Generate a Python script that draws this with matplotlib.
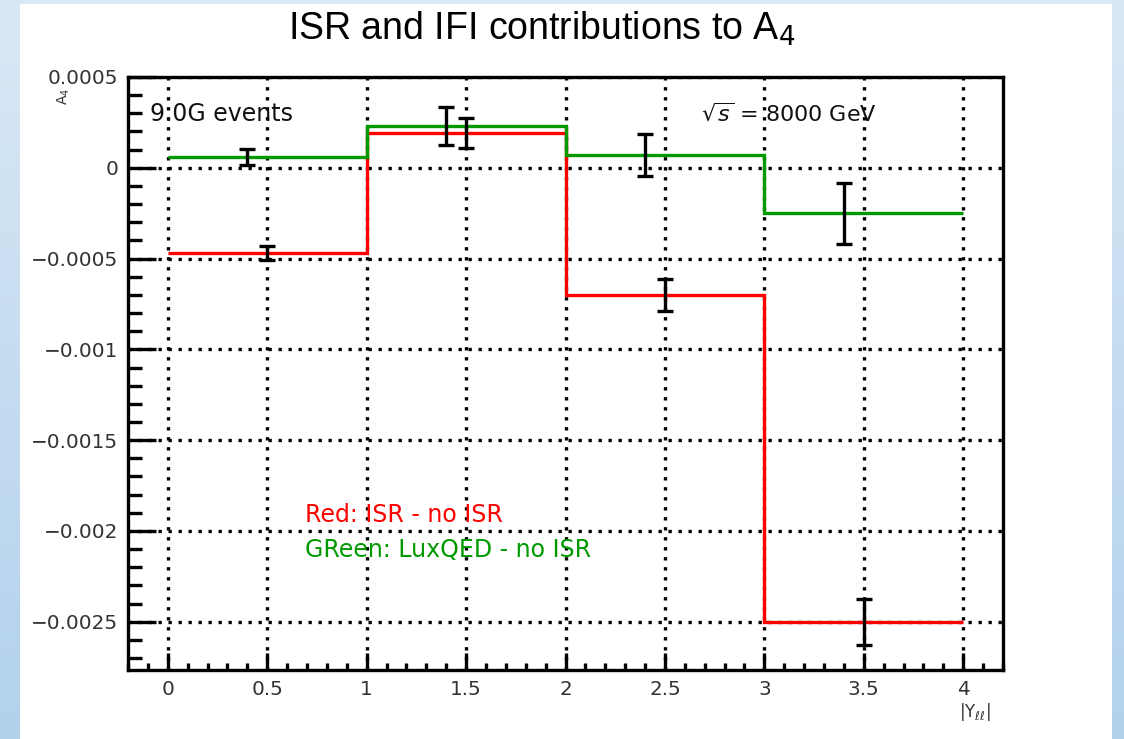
import numpy as np
import matplotlib
matplotlib.use('Agg')
from matplotlib import pyplot as plt
from matplotlib.patches import Rectangle
from matplotlib.ticker import MultipleLocator

# A4 differences per |Y_ll| bin
bin_edges = [0, 1, 2, 3, 4]
isr_diff = [-0.00047, 0.00019, -0.0007, -0.0025]
isr_err = [0.000038, 0.000083, 0.00009, 0.000126]
lux_diff = [0.00006, 0.00023, 0.00007, -0.00025]
lux_err = [0.000045, 0.000107, 0.000117, 0.000168]

x_ticks = [0, 0.5, 1, 1.5, 2, 2.5, 3, 3.5, 4]
x_labels = ['0', '0.5', '1', '1.5', '2', '2.5', '3', '3.5', '4']
y_ticks = [-0.0025, -0.002, -0.0015, -0.001, -0.0005, 0, 0.0005]
y_labels = ['\u22120.0025', '\u22120.002', '\u22120.0015', '\u22120.001', '\u22120.0005', '0', '0.0005']

W, H = 1124, 739
RED = '#ff0000'
GREEN = '#009a00'
LW = 2.4

plt.rcParams['font.family'] = ['DejaVu Sans']

fig = plt.figure(figsize=(W / 100, H / 100), dpi=100)

# canvas background: light blue gradient with a white pad on top
bg = fig.add_axes([0, 0, 1, 1])
grad = np.linspace(0, 1, 256).reshape(-1, 1)
top_c = np.array([0.85, 0.91, 0.965])
bot_c = np.array([0.70, 0.82, 0.925])
img = top_c + (bot_c - top_c) * grad[:, :, None]
bg.imshow(img, aspect='auto', extent=[0, 1, 0, 1], origin='upper')
bg.add_patch(Rectangle((20 / W, 0), (1112 - 20) / W, 1 - 4 / H,
                       transform=bg.transAxes, facecolor='white', edgecolor='none'))
bg.set_xlim(0, 1)
bg.set_ylim(0, 1)
bg.axis('off')

ax = fig.add_axes([128 / W, 1 - 670 / H, (1003 - 128) / W, (670 - 77) / H])
ax.set_facecolor('white')

centers = (np.array(bin_edges[:-1]) + np.array(bin_edges[1:])) / 2

ax.stairs(isr_diff, bin_edges, baseline=None, color=RED, lw=LW, zorder=3)
ax.stairs(lux_diff, bin_edges, baseline=None, color=GREEN, lw=LW, zorder=3)
ax.errorbar(centers - 0.1, lux_diff, yerr=lux_err, fmt='none', ecolor='black',
            elinewidth=LW, capsize=6, capthick=LW, zorder=4)
ax.errorbar(centers, isr_diff, yerr=isr_err, fmt='none', ecolor='black',
            elinewidth=LW, capsize=6, capthick=LW, zorder=4)

ax.set_xlim(-0.2, 4.2)
ax.set_ylim(-0.002766, 0.0005)
ax.set_xticks(x_ticks, x_labels)
ax.set_yticks(y_ticks, y_labels)
ax.xaxis.set_minor_locator(MultipleLocator(0.1))
ax.yaxis.set_minor_locator(MultipleLocator(0.0001))

ax.tick_params(axis='both', which='both', direction='in', width=LW,
               top=False, right=False, labelsize=14.4, labelcolor='#333333', pad=7)
ax.tick_params(axis='y', which='major', length=20)
ax.tick_params(axis='y', which='minor', length=10)
ax.tick_params(axis='x', which='major', length=12)
ax.tick_params(axis='x', which='minor', length=5)

ax.set_axisbelow(True)
ax.grid(True, which='major', color='black', linestyle=(0, (1, 2)), linewidth=LW)
for sp in ax.spines.values():
    sp.set_linewidth(LW)

ax.text(-0.09, 0.000259, '9.0G events', fontsize=17, color='#111111')
ax.text(2.68, 0.000259, r'$\sqrt{s}$ = 8000 GeV', fontsize=16, color='#111111')
ax.text(0.69, -0.001949, 'Red: ISR - no ISR', fontsize=17, color=RED)
ax.text(0.69, -0.002145, 'GReen: LuxQED - no ISR', fontsize=17, color=GREEN)

fig.text(542 / W, 1 - 40 / H, 'ISR and IFI contributions to A$_4$',
         family='Liberation Sans', fontsize=27, ha='center', va='baseline')
fig.text(64 / W, 1 - 88 / H, 'A$_4$', fontsize=10, rotation=90,
         ha='center', va='top', color='#333333')
fig.text(975 / W, 1 - 712 / H, r'|Y$_{\ell\ell}$|', fontsize=12,
         ha='center', va='center', color='#333333')

fig.savefig('out.png', dpi=100)
